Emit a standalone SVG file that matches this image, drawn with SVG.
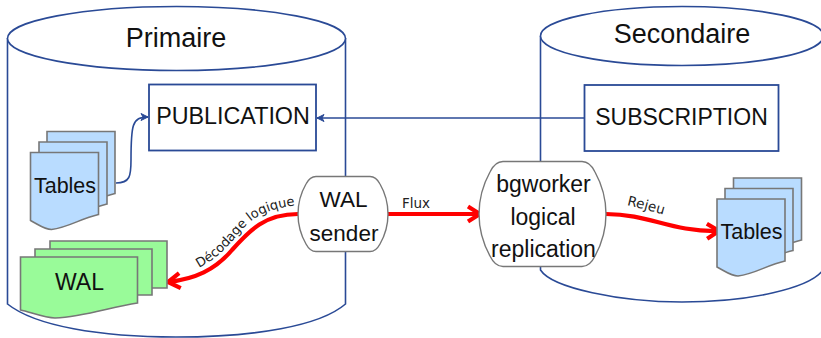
<svg xmlns="http://www.w3.org/2000/svg" width="821" height="338" viewBox="0 0 821 338">
<style>
text{font-family:"Liberation Sans",Arial,sans-serif;fill:#111;text-anchor:middle}
.db{fill:#fff;stroke:#2a4a96;stroke-width:1.6}
.box{fill:#fff;stroke:#2a4a96;stroke-width:1.8}
.sheet{stroke:#777;stroke-width:1.6}
.blue{fill:#b9dcff}
.green{fill:#99fb99}
.proc{fill:#fff;stroke:#777;stroke-width:1.4}
.thin{fill:none;stroke:#2a4a96;stroke-width:1.6}
.red{fill:none;stroke:#f00;stroke-width:4.2}
.lab{font-family:"DejaVu Sans",sans-serif;font-size:13.500px;fill:#222}
</style>
<defs>
<marker id="ah" markerUnits="userSpaceOnUse" markerWidth="18" markerHeight="20" refX="15" refY="10" orient="auto"><path d="M3 2.500 L15 10 L3 17.500" fill="none" stroke="#f00" stroke-width="4.200"/></marker>
<marker id="at" markerUnits="userSpaceOnUse" markerWidth="10" markerHeight="10" refX="8" refY="5" orient="auto"><path d="M1 1.500 L8 5 L1 8.500 L3 5 Z" fill="#2a4a96" stroke="#2a4a96"/></marker>
<path id="tb" d="M0 0H68V62C50 66 38 75 21 77C14 77 8 72 0 68Z"/>
<path id="dec" d="M199 268C218 258 228 246 240 232C254 216 268 208 300 205"/>
<path id="rej" d="M627 205C640 208 654 212 672 217"/>
</defs>
<g id="primaire">
<path class="db" d="M7.500 38V304C35 326 100 337 176 337C255 337 320 326 345.500 304V38"/>
<ellipse class="db" cx="176.500" cy="38.500" rx="169" ry="32"/>
<text x="176" y="47" font-size="27">Primaire</text>
</g>
<g id="secondaire">
<path class="db" d="M540.500 36V270C552 288 620 302 682 302C750 302 810 288 823 270V36"/>
<ellipse class="db" cx="682" cy="36" rx="141.500" ry="29.500"/>
<text x="682" y="43" font-size="27">Secondaire</text>
</g>
<g id="connectors">
<path class="thin" marker-end="url(#at)" d="M116 183C130 183 131 176 131 160C131 125 132 117 148 117"/>
<path class="thin" marker-end="url(#at)" d="M584 118H317"/>
<path class="red" marker-end="url(#ah)" d="M298 214C265 214 250 230 232 250C215 270 195 279 168 282"/>
<path class="red" marker-end="url(#ah)" d="M388 214H480"/>
<path class="red" marker-end="url(#ah)" d="M606 214C650 214 670 232 719 231"/>
</g>
<g id="publication">
<rect class="box" x="149" y="84.500" width="167" height="66"/>
<text x="233" y="124" font-size="23.300">PUBLICATION</text>
</g>
<g id="subscription">
<rect class="box" x="584.500" y="85" width="194" height="66"/>
<text x="681.500" y="125" font-size="23">SUBSCRIPTION</text>
</g>
<g id="tables-primaire">
<use href="#tb" x="47" y="131.500" class="sheet blue"/>
<use href="#tb" x="39" y="142" class="sheet blue"/>
<use href="#tb" x="30.500" y="152.500" class="sheet blue"/>
<text x="65" y="193" font-size="21.500">Tables</text>
</g>
<g id="wal">
<path class="sheet green" d="M50 241H167V288H50Z"/>
<path class="sheet green" d="M35 249H152V295H35Z"/>
<path class="sheet green" d="M20.500 257H137.500V303C110 307 85 317 55 318C45 318 30 312 20.500 310Z"/>
<text x="79.500" y="290" font-size="23">WAL</text>
</g>
<g id="wal-sender">
<path class="proc" d="M316 176.500H370Q376 176.500 380 184Q388 198 388 214Q388 230 380 244Q376 251.500 370 251.500H316Q310 251.500 306 244Q298 230 298 214Q298 198 306 184Q310 176.500 316 176.500Z"/>
<text x="343.500" y="207" font-size="22.500">WAL</text>
<text x="344" y="241" font-size="22.500">sender</text>
</g>
<g id="bgworker">
<path class="proc" d="M503 161.500H582Q590 161.500 595 172Q606 192 606 214Q606 236 595 256Q590 266.500 582 266.500H503Q495 266.500 490 256Q479 236 479 214Q479 192 490 172Q495 161.500 503 161.500Z"/>
<text x="543.500" y="192" font-size="23">bgworker</text>
<text x="543" y="225" font-size="23">logical</text>
<text x="543.500" y="257" font-size="23">replication</text>
</g>
<g id="tables-secondaire">
<use href="#tb" x="733.500" y="178" class="sheet blue"/>
<use href="#tb" x="725" y="188.500" class="sheet blue"/>
<use href="#tb" x="717" y="199" class="sheet blue"/>
<text x="751.500" y="239" font-size="21.500">Tables</text>
</g>
<g id="labels">
<text class="lab" x="416" y="208">Flux</text>
<text class="lab" style="text-anchor:start"><textPath href="#rej">Rejeu</textPath></text>
<text class="lab" style="text-anchor:start;font-size:13px"><textPath href="#dec">Décodage logique</textPath></text>
</g>
</svg>
